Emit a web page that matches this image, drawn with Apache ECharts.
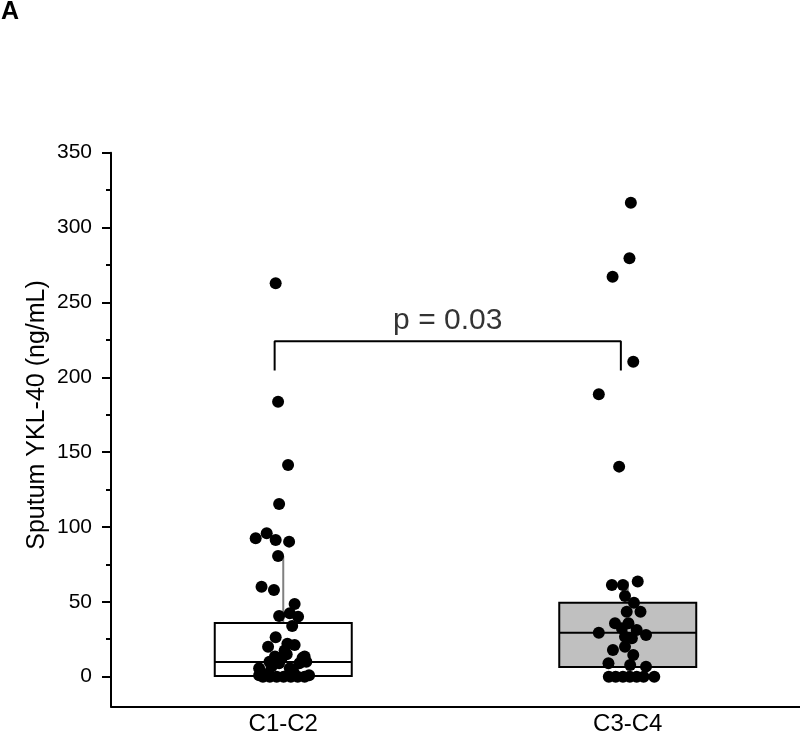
<!DOCTYPE html>
<html>
<head>
<meta charset="utf-8">
<script src="https://cdn.jsdelivr.net/npm/echarts@6/dist/echarts.min.js"></script>
<style>
html,body{margin:0;padding:0;background:#fff;}
#chart{width:800px;height:744px;}
</style>
</head>
<body>
<div id="chart"></div>
<script>
// ---- data ----
const categories = ['C1-C2', 'C3-C4'];
const q1 = [0.5, 6.5];
const medians = [9.8, 29.4];
const q3 = [35.9, 49.4];
const whiskerLow = [0, 0];
const whiskerHigh = [80.6, 63.5];
const boxFills = ['#ffffff', '#c0c0c0'];

const c1Values = [262.8, 183.7, 141.4, 115.4, 92.4, 95.8, 91.3, 90.2, 80.6, 60.1, 57.9, 48.6, 40.5, 42.3, 40.1, 33.9, 26.3, 20, 21.2, 17.4, 13.4, 12.3, 13.4, 8.9, 5.6, 6.7, 5.6, 10, 8.9, 12.5, 0, 0, 0, 0, 0, 0, 0, 2, 3, 22, 10, 15, 1, 1];
const c1Jitter = [-0.022, -0.015, 0.014, -0.012, -0.080, -0.048, -0.022, 0.017, -0.015, -0.063, -0.027, 0.033, -0.012, 0.019, 0.043, 0.026, -0.022, -0.044, 0.033, 0.004, -0.024, -0.005, 0.062, 0.047, -0.070, -0.034, 0.019, 0.067, -0.012, 0.056, -0.059, -0.039, -0.019, 0.001, 0.022, 0.042, 0.062, -0.045, 0.030, 0.012, -0.040, 0.010, -0.070, 0.075];

const c3Values = [316.6, 279.5, 267.2, 210.4, 188.6, 140.3, 63.5, 61.3, 61.3, 53.9, 49.4, 43.4, 43.4, 35.7, 35.7, 32.3, 31.2, 29.4, 27.9, 26.7, 25.6, 17.8, 20, 14.5, 8.9, 7.8, 6.7, 0, 0, 0, 0, 0, 0, 0];
const c3Jitter = [0.009, 0.005, -0.044, 0.016, -0.084, -0.025, 0.029, -0.046, -0.014, -0.008, 0.018, -0.003, 0.037, -0.037, 0.002, -0.017, 0.026, -0.084, 0.053, -0.008, 0.012, -0.043, -0.008, 0.016, -0.056, 0.007, 0.053, -0.055, -0.035, -0.014, 0.006, 0.026, 0.046, 0.077];

const yTickValues = [0, 50, 100, 150, 200, 250, 300, 350];
const yMinorTickValues = [25, 75, 125, 175, 225, 275, 325];
const yMin = -20, yMax = 350;

const bracketX = [0.975, 1.98];
const bracketTop = 224;
const bracketBottom = 204.5;
const pText = 'p = 0.03';
const yName = 'Sputum YKL-40 (ng/mL)';

// ---- build ----
const FONT = 'Liberation Sans, Arial, sans-serif';
const boxData = categories.map((c, i) => ({
  value: [q1[i], q1[i], medians[i], q3[i], q3[i]],
  itemStyle: { color: boxFills[i], borderColor: '#000', borderWidth: 2 }
}));
const pts1 = c1Values.map((v, i) => [1 + c1Jitter[i], v]);
const pts3 = c3Values.map((v, i) => [2 + c3Jitter[i], v]);

const whiskerSeries = [];
categories.forEach((c, i) => {
  whiskerSeries.push({
    type: 'line', xAxisIndex: 1, yAxisIndex: 0, symbol: 'none', silent: true,
    lineStyle: { color: '#808080', width: 2 }, z: 1,
    data: [[i + 1, q3[i]], [i + 1, whiskerHigh[i]]]
  });
  whiskerSeries.push({
    type: 'line', xAxisIndex: 1, yAxisIndex: 0, symbol: 'none', silent: true,
    lineStyle: { color: '#808080', width: 2 }, z: 1,
    data: [[i + 1, whiskerLow[i]], [i + 1, q1[i]]]
  });
});

const chart = echarts.init(document.getElementById('chart'), null, { renderer: 'canvas' });
chart.setOption({
  animation: false,
  backgroundColor: '#fff',
  grid: { left: 111, right: -5, top: 152.7, bottom: 37.4, containLabel: false },
  xAxis: [
    {
      type: 'category', data: categories, boundaryGap: true,
      axisLine: { onZero: false, lineStyle: { color: '#000', width: 2 } },
      axisTick: { alignWithLabel: true, length: 8, lineStyle: { color: '#000', width: 2 } },
      axisLabel: { color: '#000', fontSize: 24, fontFamily: FONT, margin: 6 },
      splitLine: { show: false }
    },
    { type: 'value', min: 0.5, max: 2.5, show: false }
  ],
  yAxis: [
    {
      type: 'value', min: yMin, max: yMax,
      axisLine: { show: true, onZero: false, lineStyle: { color: '#000', width: 2 } },
      axisTick: { show: true, customValues: yTickValues, length: 9, lineStyle: { color: '#000', width: 2 } },
      axisLabel: { customValues: yTickValues, color: '#000', fontSize: 21, fontFamily: FONT, margin: 19 },
      splitLine: { show: false }
    },
    {
      type: 'value', min: yMin, max: yMax, position: 'left',
      axisLine: { show: false, onZero: false },
      axisTick: { show: true, customValues: yMinorTickValues, length: 5, lineStyle: { color: '#000', width: 2 } },
      axisLabel: { show: false },
      splitLine: { show: false }
    }
  ],
  graphic: [
    { type: 'text', left: 1, top: 0, style: { text: 'A', font: 'bold 25px ' + FONT, fill: '#000' } },
    { type: 'text', x: 37, y: 415, rotation: Math.PI / 2,
      style: { text: yName, font: '25px ' + FONT, fill: '#000', align: 'center', verticalAlign: 'middle' } }
  ],
  series: [
    ...whiskerSeries,
    {
      type: 'boxplot', xAxisIndex: 0, yAxisIndex: 0, data: boxData,
      boxWidth: [137, 137], z: 2,
      itemStyle: { borderColor: '#000', borderWidth: 2 }
    },
    {
      type: 'scatter', xAxisIndex: 1, yAxisIndex: 0, data: pts1.concat(pts3),
      symbol: 'circle', symbolSize: 12, clip: false, z: 3,
      itemStyle: { color: '#000', opacity: 1 }
    },
    {
      type: 'line', xAxisIndex: 1, yAxisIndex: 0, symbol: 'none', silent: true, z: 3,
      lineStyle: { color: '#000', width: 2 },
      data: [[bracketX[0], bracketBottom], [bracketX[0], bracketTop], [bracketX[1], bracketTop], [bracketX[1], bracketBottom]]
    },
    {
      type: 'scatter', xAxisIndex: 1, yAxisIndex: 0, symbolSize: 0, silent: true, z: 3,
      data: [[(bracketX[0] + bracketX[1]) / 2, bracketTop]],
      label: { show: true, position: 'top', distance: 6, formatter: pText, color: '#000', fontSize: 30, fontFamily: FONT }
    }
  ]
});
</script>
</body>
</html>
